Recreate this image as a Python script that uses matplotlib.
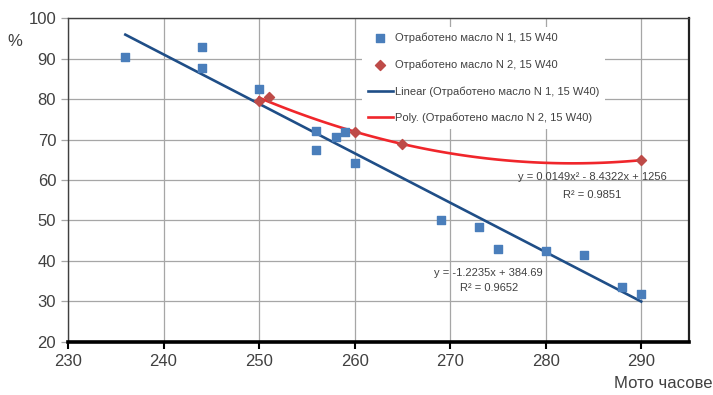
import numpy as np, matplotlib.pyplot as plt
from matplotlib import rcParams

rcParams['font.family'] = ['Liberation Sans', 'DejaVu Sans']

# data
hours1 = [236, 244, 244, 250, 256, 256, 258, 259, 260, 269, 273, 275, 280, 284, 288, 290]
oil1 = [90.3, 92.8, 87.7, 82.5, 72.0, 67.4, 70.7, 71.8, 64.2, 50.0, 48.5, 43.0, 42.4, 41.4, 33.5, 31.8]
hours2 = [250, 251, 260, 265, 290]
oil2 = [79.4, 80.4, 71.8, 68.9, 64.9]

label1 = 'Отработено масло N 1, 15 W40'
label2 = 'Отработено масло N 2, 15 W40'
xticks = [230, 240, 250, 260, 270, 280, 290]
yticks = [20, 30, 40, 50, 60, 70, 80, 90, 100]

fig = plt.figure(figsize=(7.13, 3.95), dpi=100)
ax = fig.add_axes([0.0954, 0.1342, 0.8709, 0.8202])

# trend lines fitted from the points, as Excel does
lin = np.polyfit(hours1, oil1, 1)
quad = np.polyfit(hours2, oil2, 2)
xl = np.linspace(min(hours1), max(hours1), 100)
xq = np.linspace(min(hours2), max(hours2), 100)

ax.scatter(hours1, oil1, marker='s', s=34, color='#4a7ebb', zorder=3, label=label1)
ax.scatter(hours2, oil2, marker='D', s=26, color='#be4b48', zorder=3, label=label2)
ax.plot(xl, np.polyval(lin, xl), color='#1f4e87', lw=1.9, zorder=2,
        label='Linear (' + label1 + ')')
ax.plot(xq, np.polyval(quad, xq), color='#f0262b', lw=1.9, zorder=2,
        label='Poly. (' + label2 + ')')

eq = dict(ha='center', va='center', fontsize=8, color='#404040')
ax.text(284.9, 60.7, 'y = 0.0149x² - 8.4322x + 1256', **eq)
ax.text(284.9, 56.3, 'R² = 0.9851', **eq)
ax.text(274.0, 37.0, 'y = -1.2235x + 384.69', **eq)
ax.text(274.1, 33.3, 'R² = 0.9652', **eq)

ax.set_xlim(230, 295)
ax.set_ylim(20, 100)
ax.set_xticks(xticks)
ax.set_yticks(yticks)
ax.grid(color='#a6a6a6', lw=0.9)
ax.set_axisbelow(True)

ax.tick_params(axis='y', labelsize=12, labelcolor='#404040', color='#a6a6a6', length=5, width=0.9)
ax.tick_params(axis='x', labelsize=12, labelcolor='#404040', color='black', length=5, width=1.5)
for side in ['left', 'top']:
    ax.spines[side].set_color('#404040')
    ax.spines[side].set_linewidth(1.0)
ax.spines['right'].set_color('#202020')
ax.spines['right'].set_linewidth(1.6)
ax.spines['bottom'].set_color('black')
ax.spines['bottom'].set_linewidth(2.6)

fig.text(0.011, 0.894, '%', fontsize=12, color='#404040', va='center')
fig.text(0.999, 0.01, 'Мото часове', fontsize=12, color='#404040', ha='right', va='bottom')

leg = ax.legend(loc='upper left', bbox_to_anchor=(362 / 713, 1 - 27 / 395),
                bbox_transform=fig.transFigure, fontsize=8, frameon=True,
                fancybox=False, framealpha=1, edgecolor='none', borderaxespad=0,
                labelspacing=1.47, handlelength=2.3, handletextpad=0.2, borderpad=0.5)
leg.set_zorder(2.5)
for t in leg.get_texts():
    t.set_color('#404040')

plt.savefig('out.png', dpi=100)
